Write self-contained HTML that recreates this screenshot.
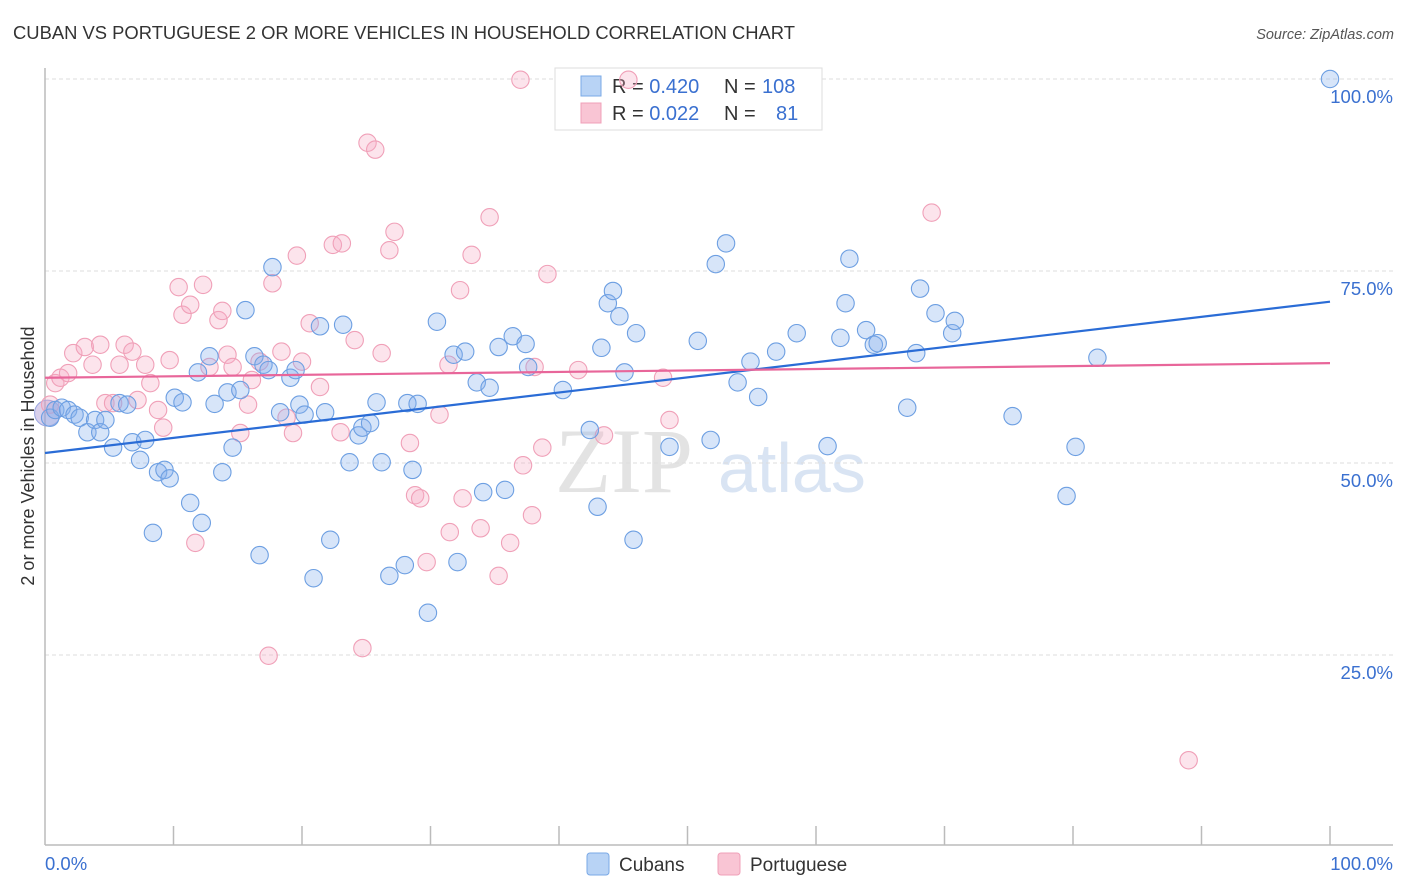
<!DOCTYPE html>
<html><head><meta charset="utf-8"><style>
html,body{margin:0;padding:0;background:#fff;width:1406px;height:892px;overflow:hidden;font-family:"Liberation Sans",sans-serif}
svg{display:block}
</style></head><body>
<svg id="chart" width="1406" height="892">
<text x="13" y="39" font-size="18" fill="#333" textLength="782" lengthAdjust="spacingAndGlyphs">CUBAN VS PORTUGUESE 2 OR MORE VEHICLES IN HOUSEHOLD CORRELATION CHART</text>
<text x="1394" y="39" font-size="14.5" fill="#555" font-style="italic" text-anchor="end">Source: ZipAtlas.com</text>
<text x="0" y="0" font-size="18" fill="#333" text-anchor="middle" transform="translate(34,456) rotate(-90)">2 or more Vehicles in Household</text>
<g><text x="555" y="492" font-size="92" fill="#ddd" font-family="Liberation Serif,serif" opacity="0.8">ZIP</text><text x="718" y="492" font-size="70" fill="#c9d9ef" opacity="0.7">atlas</text></g>
<g id="grid"></g><g id="axes"></g><g id="trend"></g><g id="pts"></g>
<g>
<rect x="555" y="68" width="267" height="62" fill="#fff" stroke="#ddd"/>
<rect x="581" y="76" width="20" height="20" fill="#b8d3f5" stroke="#7aa9e6"/>
<rect x="581" y="103" width="20" height="20" fill="#f9c5d4" stroke="#f0a0b8"/>
<text x="612" y="93" font-size="20" fill="#333">R = <tspan fill="#3a70d0">0.420</tspan><tspan x="724">N = </tspan><tspan fill="#3a70d0" x="762">108</tspan></text>
<text x="612" y="120" font-size="20" fill="#333">R = <tspan fill="#3a70d0">0.022</tspan><tspan x="724">N = </tspan><tspan fill="#3a70d0" x="776">81</tspan></text>
</g>
<g>
<rect x="587" y="853" width="22" height="22" rx="3" fill="#b8d3f5" stroke="#7aa9e6"/>
<text x="619" y="871" font-size="19" fill="#333">Cubans</text>
<rect x="718" y="853" width="22" height="22" rx="3" fill="#f9c5d4" stroke="#f0a0b8"/>
<text x="750" y="871" font-size="19" fill="#333">Portuguese</text>
</g>
</svg>
<script>
const yTicks=[25,50,75,100];
const yTickLabels=["25.0%","50.0%","75.0%","100.0%"];
const xTickLabels=["0.0%","100.0%"];
const cubanX=[0.4,0.8,1.3,1.8,2.3,2.7,3.3,3.9,4.3,4.7,5.3,5.8,6.4,6.8,7.4,7.8,8.4,8.8,9.3,9.7,10.1,10.7,11.3,11.9,12.2,12.8,13.2,13.8,14.2,14.6,15.2,15.6,16.3,16.7,17.0,17.4,17.7,18.3,19.1,19.5,19.8,20.2,20.9,21.4,21.8,22.2,23.2,23.7,24.4,24.7,25.3,25.8,26.2,26.8,28.0,28.2,28.6,29.0,29.8,30.5,31.8,32.1,32.7,33.6,34.1,34.6,35.3,35.8,36.4,37.4,37.6,40.3,42.4,43.0,43.3,43.8,44.2,44.7,45.1,45.8,46.0,48.6,50.8,51.8,52.2,53.0,53.9,54.9,55.5,56.9,58.5,60.9,61.9,62.3,62.6,63.9,64.5,64.8,67.1,67.8,68.1,69.3,70.6,70.8,75.3,79.5,80.2,81.9,100];
const cubanY=[55.9,56.9,57.2,56.9,56.3,55.9,54.0,55.6,54.0,55.6,52.0,57.8,57.6,52.7,50.4,53.0,40.9,48.8,49.1,48.0,58.5,57.9,44.8,61.8,42.2,63.9,57.7,48.8,59.2,52.0,59.5,69.9,63.9,38.0,62.8,62.1,75.5,56.6,61.1,62.1,57.6,56.3,35.0,67.8,56.6,40.0,68.0,50.1,53.6,54.6,55.2,57.9,50.1,35.3,36.7,57.8,49.1,57.7,30.5,68.4,64.1,37.1,64.5,60.5,46.2,59.8,65.1,46.5,66.5,65.5,62.5,59.5,54.3,44.3,65.0,70.8,72.4,69.1,61.8,40.0,66.9,52.1,65.9,53.0,75.9,78.6,60.5,63.2,58.6,64.5,66.9,52.2,66.3,70.8,76.6,67.3,65.4,65.6,57.2,64.3,72.7,69.5,66.9,68.5,56.1,45.7,52.1,63.7,100];
const portX=[0.4,0.8,1.2,1.8,2.2,3.1,3.7,4.3,4.7,5.3,5.8,6.2,6.8,7.2,7.8,8.2,8.8,9.2,9.7,10.4,10.7,11.3,11.7,12.3,12.8,13.5,13.8,14.2,14.6,15.2,15.8,16.1,16.7,17.4,17.7,18.4,18.8,19.3,19.6,20.0,20.6,21.4,22.4,23.0,23.1,24.1,24.7,25.1,25.7,26.2,26.8,27.2,28.4,28.8,29.2,29.7,30.7,31.5,31.4,32.3,32.5,33.2,33.9,34.6,35.3,36.2,37.0,37.2,37.9,38.1,38.7,39.1,41.5,43.5,45.4,48.1,48.6,69.0,89.0];
const portY=[57.6,60.4,61.1,61.7,64.3,65.1,62.8,65.4,57.8,57.8,62.8,65.4,64.5,58.2,62.8,60.4,56.9,54.6,63.4,72.9,69.3,70.6,39.6,73.2,62.5,68.6,69.8,64.1,62.5,53.9,57.6,60.8,63.2,24.9,73.4,64.5,55.9,53.9,77.0,63.2,68.2,59.9,78.4,54.0,78.6,66.0,25.9,91.7,90.8,64.3,77.7,80.1,52.6,45.8,45.4,37.1,56.3,41.0,62.8,72.5,45.4,77.1,41.5,82.0,35.3,39.6,99.9,49.7,43.2,62.5,52.0,74.6,62.1,53.6,99.9,61.1,55.6,82.6,11.3];
const cubanTrend=[51.3,71.0];
const portTrend=[61.1,63.0];
const NS="http://www.w3.org/2000/svg";
const X0=45,X1=1330,Y0=847,Y100=79;
function sx(v){return X0+(X1-X0)*v/100;}
function sy(v){return Y0+(Y100-Y0)*v/100;}
function mk(t,a,p){const e=document.createElementNS(NS,t);for(const k in a)e.setAttribute(k,a[k]);p.appendChild(e);return e;}
const grid=document.getElementById('grid'),axes=document.getElementById('axes'),trend=document.getElementById('trend'),pts=document.getElementById('pts');
yTicks.forEach((t,i)=>{
 const l=mk('line',{x1:45,x2:1393,y1:sy(t),y2:sy(t),stroke:'#ddd','stroke-dasharray':'4,3'},grid);
 
 
 const tx=mk('text',{x:1393,y:sy(t)+24,'font-size':18.5,fill:'#3a70d0','text-anchor':'end'},grid);
 tx.textContent=yTickLabels[i];
 
 
});
const ya=mk('line',{x1:45,x2:45,y1:68,y2:845,stroke:'#bbb','stroke-width':1.5},axes);


const xa=mk('line',{x1:45,x2:1393,y1:845,y2:845,stroke:'#bbb','stroke-width':1.5},axes);


for(let i=1;i<=10;i++){
 const tk=mk('line',{x1:sx(i*10),x2:sx(i*10),y1:826,y2:845,stroke:'#bbb','stroke-width':1.5},axes);
 
 
}
[[0,'start',45],[1,'end',1393]].forEach(([i,a,x])=>{
 const t=mk('text',{x:x,y:870,'font-size':18.5,fill:'#3a70d0','text-anchor':a},axes);
 t.textContent=xTickLabels[i];
 
 
});
function drawPts(xs,ys,fill,stroke,name){
 xs.forEach((x,i)=>{
  const c=mk('circle',{cx:sx(x),cy:sy(ys[i]),r:8.7,fill:fill,stroke:stroke,'stroke-width':1.1},pts);
  
  
 });
}
const big=mk('circle',{cx:sx(0.2),cy:sy(56.5),r:13,fill:'rgba(170,150,210,0.45)',stroke:'#9aa6e0'},pts);


drawPts(portX,portY,'rgba(246,170,195,0.32)','#f0a0b8','portuguese-point');
drawPts(cubanX,cubanY,'rgba(130,175,235,0.32)','#6d9fe2','cuban-point');
const tb=mk('line',{x1:sx(0),x2:sx(100),y1:sy(cubanTrend[0]),y2:sy(cubanTrend[1]),stroke:'#2a6cd6','stroke-width':2.2},trend);


const tp=mk('line',{x1:sx(0),x2:sx(100),y1:sy(portTrend[0]),y2:sy(portTrend[1]),stroke:'#e8669a','stroke-width':2.2},trend);


document.getElementById('chart').appendChild(pts);
document.getElementById('chart').appendChild(trend);
</script>
</body></html>
